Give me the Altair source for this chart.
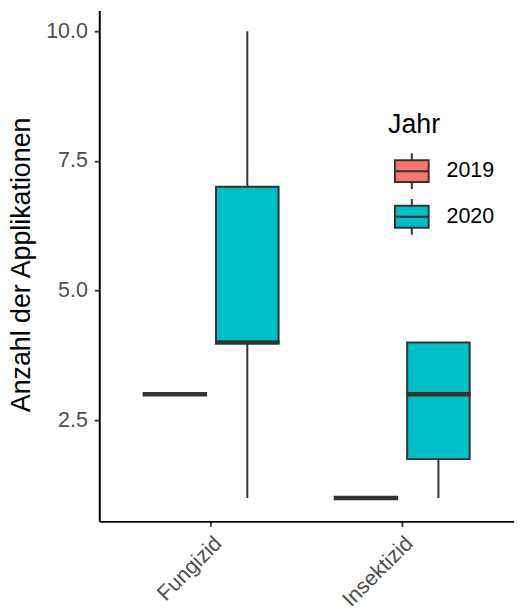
import altair as alt
import pandas as pd

# ---- data (box-plot summaries) ----
kategorie = ["Fungizid", "Fungizid", "Insektizid", "Insektizid"]
jahr = ["2019", "2020", "2019", "2020"]
minimum = [3, 1, 1, 1]
q1 = [3, 4, 1, 1.75]
median = [3, 4, 1, 3]
q3 = [3, 7, 1, 4]
maximum = [3, 10, 1, 4]

kategorien = ["Fungizid", "Insektizid"]
jahre = ["2019", "2020"]
farben = ["#F8766D", "#00BFC4"]
y_ticks = [2.5, 5.0, 7.5, 10.0]

df = pd.DataFrame({
    "Kategorie": kategorie,
    "Jahr": jahr,
    "lo": minimum,
    "q1": q1,
    "med": median,
    "q3": q3,
    "hi": maximum,
})

FONT = "Liberation Sans"
LINE = "#333333"

x_enc = alt.X(
    "Kategorie:N",
    sort=kategorien,
    scale=alt.Scale(domain=kategorien, paddingInner=0, paddingOuter=0.085),
    axis=alt.Axis(
        title=None, labelAngle=-45, labelAlign="right", labelBaseline="top",
        labelFontSize=21.6, labelColor="#4D4D4D", labelFont=FONT,
        labelPadding=6, labelOffset=0,
        tickColor=LINE, tickSize=5, tickWidth=1.8,
        domainColor="black", domainWidth=2, grid=False,
    ),
)
xo_enc = alt.XOffset(
    "Jahr:N", sort=jahre,
    scale=alt.Scale(domain=jahre, paddingInner=0.137, paddingOuter=0.3876),
)
y_scale = alt.Scale(domain=[0.55, 10.40], nice=False, zero=False)
y_axis = alt.Axis(
    values=y_ticks, format=".1f", title="Anzahl der Applikationen",
    titleFontSize=27, titleFont=FONT, titleColor="black", titleFontWeight="normal",
    titleAngle=-90, titleAlign="center", titleBaseline="alphabetic",
    titleX=-70.5, titleY=256,
    labelFontSize=21.6, labelColor="#4D4D4D", labelFont=FONT, labelPadding=7,
    tickColor=LINE, tickSize=5, tickWidth=1.8,
    domainColor="black", domainWidth=2, grid=False,
)

box_symbol = "M-1,-0.65H1V0.65H-1Z M-1,0H1 M0,-0.65V-1.06 M0,0.65V1.06"

color_enc = alt.Color(
    "Jahr:N",
    scale=alt.Scale(domain=jahre, range=farben),
    legend=alt.Legend(
        title="Jahr", orient="none", legendX=291, legendY=103,
        titleFontSize=27, titleFont=FONT, titleColor="black", titleFontWeight="normal",
        titlePadding=14,
        labelFontSize=21.6, labelFont=FONT, labelColor="black", labelOffset=17,
        symbolType=box_symbol, symbolSize=1156, symbolStrokeColor=LINE,
        symbolStrokeWidth=2, symbolOffset=6, symbolOpacity=1,
        rowPadding=0, padding=0,
    ),
)

whisker = alt.Chart(df).mark_rule(color=LINE, strokeWidth=2).encode(
    x=x_enc, xOffset=xo_enc,
    y=alt.Y("lo:Q", scale=y_scale, axis=y_axis), y2="hi:Q",
)
box = alt.Chart(df).mark_bar(stroke=LINE, strokeWidth=2).encode(
    x=x_enc, xOffset=xo_enc,
    y=alt.Y("q1:Q", scale=y_scale, axis=y_axis), y2="q3:Q",
    color=color_enc,
)
med = alt.Chart(df).mark_tick(color=LINE, thickness=4.5, size=65, opacity=1).encode(
    x=x_enc, xOffset=xo_enc,
    y=alt.Y("med:Q", scale=y_scale, axis=y_axis),
)

chart = alt.layer(whisker, box, med).properties(
    width=418, height=515,
    autosize=alt.AutoSizeParams(type="none"),
    padding={"left": 92, "top": 0, "right": 0, "bottom": 100},
).configure_view(stroke=None)

chart.save("out.html", embed_options={"renderer": "svg", "actions": False})
